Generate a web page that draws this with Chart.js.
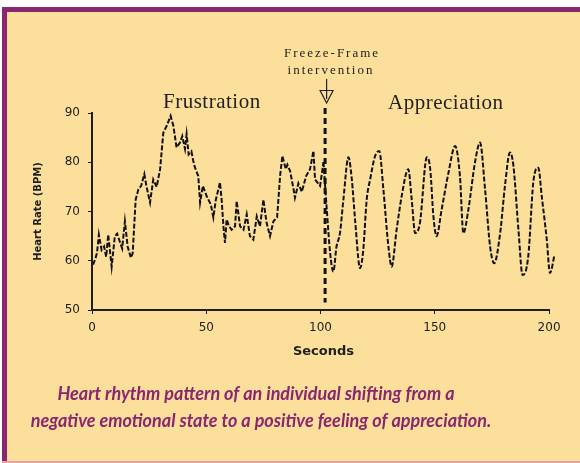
<!DOCTYPE html>
<html><head><meta charset="utf-8">
<script src="https://cdn.jsdelivr.net/npm/chart.js@4.4.1/dist/chart.umd.min.js"></script>
<style>html,body{margin:0;padding:0;background:#fff;} canvas{display:block;}</style>
</head><body>
<canvas id="c" width="580" height="463"></canvas>
<script>
// ---- data ----
const frustrationSec = [0.5,1.5,2.2,3,4.2,5.3,6.2,7.1,8.6,10,11,12.3,13.2,14.4,15.6,17,17.8,19.1,20.3,21.5,22.9,23.8,25.4,26.8,28.3,29.8,31.2,32.7,34.4,35.6,37,38.5,39.5,40.7,41.4,42.3,43.5,44.3,45,46.5,47.3,48.5,50.2,52,53.1,54.2,56,56.8,57.5,58.2,58.9,60,61.1,62.6,63.3,64.8,66.3,67.7,69.1,70.6,72.1,73.5,75,76.4,77.9,79.4,81,82.3,83.3,84.8,85.5,86.7,88.2,88.8,90.3,91.8,93.7,95.4,96.9,97.6,99.8,101.3];
const frustrationBpm = [59.2,60.5,61.6,65.3,62.2,62.9,60.8,65.3,58.8,65,65.5,63.7,62.5,68,62.9,60.6,61.5,72.4,74.5,75.2,77.6,75.2,71.8,76.5,75,78.6,86,87.4,89.4,87.4,83,84,85.3,82.7,85.7,81.6,82.2,80.3,79,77.2,71.8,75.2,73.1,71.4,68.8,72.4,75.9,72,67,63.6,68.4,67,66.3,67,72.1,67,66.3,69.4,65,64.3,69,67,72.4,67.7,65,68,68.8,77.2,81.3,78.6,79.5,78.2,74.5,72.8,75.7,74,77.2,78.6,82.3,76.5,75.2,80];
const appreciationSec = [101.3,102.8,104.2,105.6,107,108.5,110,112.2,113.7,115.1,117.3,118.7,120.2,121.7,123.9,125.7,127.5,129.7,131.1,133.3,135.5,138.4,139.9,141.4,143.5,146.5,148,149.4,150.8,153,156,158.9,161,162.5,164.7,167.6,169.8,172,174.2,176,178.6,180.7,182.9,184.4,186.6,188.4,190.9,193.1,195.3,196.8,199,200.4,202.4];
const appreciationBpm = [80,70,61.6,57.8,62.9,65.6,72.4,81,76.5,68.4,58.5,62.2,72.4,76.5,81.3,82.3,74.5,62.9,58.8,66.3,73.1,78.6,72.4,65.6,67.7,81,78.6,69,65,70.4,77.9,83.3,77.2,65.6,70.4,80,84,74.5,62.9,59.5,65.6,75.2,82,79.3,66.3,57.1,60.9,75.9,78.9,73.1,64.3,57.5,61.2];
const xTickValues = [0, 50, 100, 150, 200];
const yTickValues = [50, 60, 70, 80, 90];
const interventionSec = 102;
const xTitle = 'Seconds';
const yTitle = 'Heart Rate (BPM)';
const captionLines = ['Heart rhythm pattern of an individual shifting from a','negative emotional state to a positive feeling of appreciation.'];

const BG = '#FCDF9B';
const PURPLE = '#8A266E';
const INK = '#1E1E1E';

Chart.defaults.font.family = '"DejaVu Sans", sans-serif';

const toPts = (xs, ys) => xs.map((s, i) => ({x: s, y: ys[i]}));

const decor = {
  id: 'decor',
  beforeDraw(chart) {
    const ctx = chart.ctx;
    ctx.save();
    ctx.fillStyle = '#ffffff'; ctx.fillRect(0, 0, 580, 463);
    ctx.fillStyle = BG; ctx.fillRect(2, 7, 578, 456);
    ctx.fillStyle = PURPLE; ctx.fillRect(2, 7, 578, 5); ctx.fillRect(2, 7, 5, 454);
    ctx.fillStyle = '#E6A3A0'; ctx.fillRect(2, 461, 578, 2);
    ctx.restore();
  },
  afterDraw(chart) {
    const {ctx, scales: {x, y}} = chart;
    ctx.save();
    // x axis line, from first to last tick value
    ctx.strokeStyle = INK; ctx.lineWidth = 2;
    const yb = Math.round(y.getPixelForValue(y.min));
    ctx.beginPath();
    ctx.moveTo(x.getPixelForValue(xTickValues[0]) - 1, yb);
    ctx.lineTo(x.getPixelForValue(xTickValues[xTickValues.length - 1]) + 1, yb);
    ctx.stroke();
    // intervention dashed line
    const px = x.getPixelForValue(interventionSec);
    ctx.strokeStyle = '#111'; ctx.lineWidth = 3; ctx.setLineDash([6, 4]);
    ctx.beginPath(); ctx.moveTo(px, y.getPixelForValue(91)); ctx.lineTo(px, y.getPixelForValue(51.5)); ctx.stroke();
    // arrow
    ctx.setLineDash([]); ctx.lineWidth = 1.2; ctx.strokeStyle = '#222';
    const ax = px + 1.5;
    ctx.beginPath(); ctx.moveTo(ax, 79); ctx.lineTo(ax, 99); ctx.stroke();
    ctx.beginPath(); ctx.moveTo(ax - 6.5, 90.5); ctx.lineTo(ax + 6.5, 90.5); ctx.lineTo(ax, 103); ctx.closePath(); ctx.stroke();
    // serif annotations
    ctx.fillStyle = '#222';
    ctx.textBaseline = 'alphabetic';
    ctx.font = '13px "Liberation Serif", serif';
    ctx.letterSpacing = '2px';
    ctx.textAlign = 'center';
    ctx.fillText('Freeze-Frame', 332, 57);
    ctx.fillText('intervention', 331, 74);
    ctx.font = '21px "Liberation Serif", serif';
    ctx.letterSpacing = '0.5px';
    ctx.textAlign = 'left';
    ctx.fillText('Frustration', 163, 108);
    ctx.fillText('Appreciation', 388, 109);
    // caption
    ctx.letterSpacing = '0px';
    ctx.fillStyle = PURPLE;
    ctx.font = 'italic 700 18px Lato, "Open Sans", sans-serif';
    ctx.textAlign = 'center';
    ctx.fillText(captionLines[0], 256, 400, 402);
    ctx.fillText(captionLines[1], 261, 427, 472);
    ctx.restore();
  }
};

const lineStyle = {borderColor: '#111', borderWidth: 2, borderDash: [5, 2], pointRadius: 0, clip: false, fill: false};

new Chart(document.getElementById('c'), {
  type: 'line',
  data: {
    datasets: [
      Object.assign({label: 'Frustration', data: toPts(frustrationSec, frustrationBpm), tension: 0}, lineStyle),
      Object.assign({label: 'Appreciation', data: toPts(appreciationSec, appreciationBpm), cubicInterpolationMode: 'monotone'}, lineStyle)
    ]
  },
  options: {
    responsive: false, animation: false, devicePixelRatio: 1,
    layout: {padding: {top: 113, right: 25, bottom: 103, left: 0}},
    plugins: {legend: {display: false}, tooltip: {enabled: false}},
    scales: {
      x: {
        type: 'linear', min: 0, max: 202.6,
        afterFit(s) { s.height = 50; },
        afterBuildTicks(s) { s.ticks = xTickValues.map(v => ({value: v})); },
        ticks: {color: INK, font: {size: 12}, padding: 7, maxRotation: 0},
        grid: {drawOnChartArea: false, drawTicks: true, tickLength: 4, color: INK},
        border: {display: false},
        title: {display: true, text: xTitle, color: INK, font: {size: 13, weight: 'bold'}, padding: {top: 0, bottom: 1}}
      },
      y: {
        min: 50, max: 90,
        afterFit(s) { s.width = 92; },
        afterBuildTicks(s) { s.ticks = yTickValues.map(v => ({value: v})); },
        ticks: {color: INK, font: {size: 12}, padding: 8},
        grid: {drawOnChartArea: false, drawTicks: true, tickLength: 4, color: INK},
        border: {color: INK, width: 2},
        title: {display: true, text: yTitle, color: INK, font: {size: 10, weight: 'bold'}, padding: {top: 32, bottom: 0}}
      }
    }
  },
  plugins: [decor]
});
</script>
</body></html>
